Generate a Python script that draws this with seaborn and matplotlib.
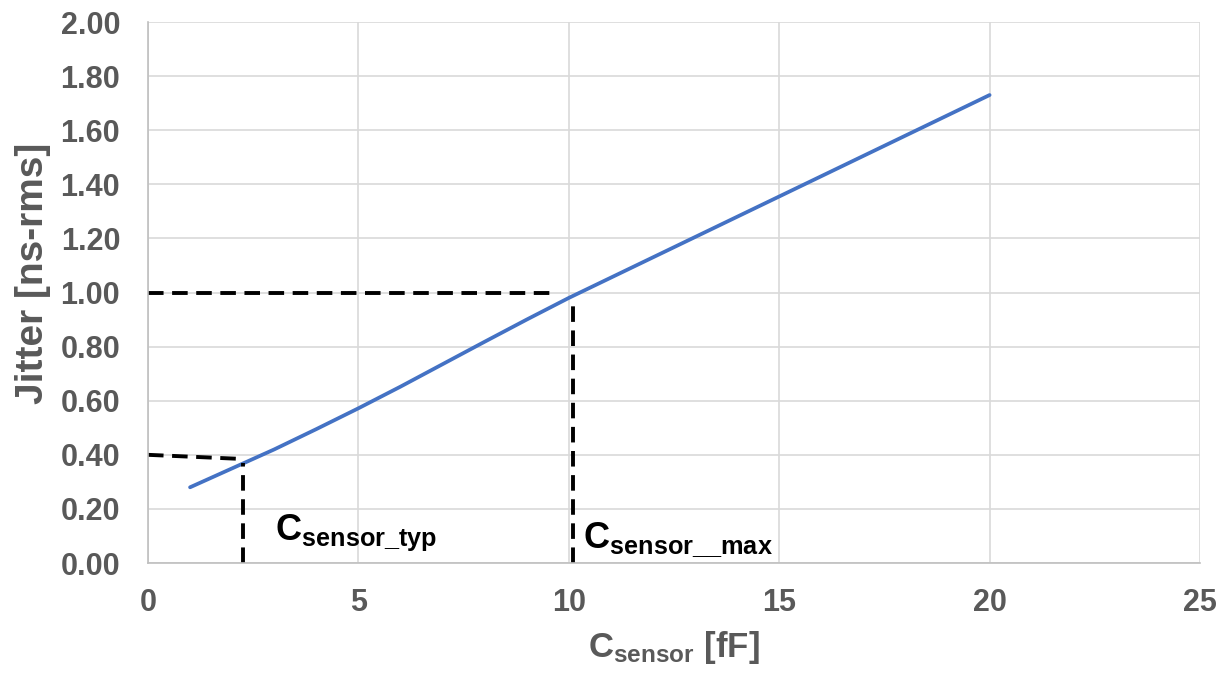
import matplotlib
matplotlib.use("Agg")
import matplotlib.pyplot as plt
import seaborn as sns
import pandas as pd

# jitter vs sensor capacitance
c_sensor = [1, 2, 3, 4, 5, 6, 7, 8, 9, 10, 12, 14, 16, 18, 20]
jitter = [0.28, 0.35, 0.42, 0.495, 0.572, 0.652, 0.735, 0.818, 0.9, 0.98, 1.13, 1.28, 1.43, 1.58, 1.73]

# marker lines for typical / max sensor capacitance
typ_x = 2.25
typ_y = 0.40
max_x = 10.1
max_y = 1.00

x_ticks = [0, 5, 10, 15, 20, 25]
y_ticks = [0.0, 0.2, 0.4, 0.6, 0.8, 1.0, 1.2, 1.4, 1.6, 1.8, 2.0]

sns.set_theme(style="whitegrid")
plt.rcParams["font.family"] = ["Liberation Sans", "DejaVu Sans"]
plt.rcParams["mathtext.fontset"] = "custom"
plt.rcParams["mathtext.rm"] = "Liberation Sans:bold"
plt.rcParams["mathtext.bf"] = "Liberation Sans:bold"
plt.rcParams["mathtext.it"] = "Liberation Sans:bold"

df = pd.DataFrame({"c": c_sensor, "jitter": jitter})

fig = plt.figure(figsize=(12.21, 6.73), dpi=100)
ax = fig.add_axes([0.1212, 0.1634, 0.8616, 0.8039])
sns.lineplot(data=df, x="c", y="jitter", color="#4472C4", linewidth=2.7, ax=ax)

# dashed guides
dash = (0, (4, 2.2))
ax.plot([0, typ_x - 0.05], [typ_y, typ_y - 0.015], color="black", ls=dash, lw=2.8)
ax.plot([typ_x, typ_x], [0, 0.37], color="black", ls=dash, lw=2.8)
ax.plot([0, max_x - 0.4], [max_y, max_y], color="black", ls=dash, lw=2.8)
ax.plot([max_x, max_x], [0, 0.96], color="black", ls=dash, lw=2.8)

ax.text(3.02, 0.085, r"$\mathbf{C_{sensor\_typ}}$", fontsize=26, color="black")
ax.text(10.34, 0.055, r"$\mathbf{C_{sensor\_\_max}}$", fontsize=26, color="black")

ax.set_xlim(0, 25)
ax.set_ylim(0, 2.0)
ax.set_xticks(x_ticks)
ax.set_yticks(y_ticks)
ax.set_yticklabels([f"{v:.2f}" for v in y_ticks])
ax.tick_params(axis="both", length=0, labelsize=22, labelcolor="#595959")
ax.tick_params(axis="y", pad=20)
ax.tick_params(axis="x", pad=18)
for lab in ax.get_xticklabels() + ax.get_yticklabels():
    lab.set_fontweight("bold")

ax.grid(color="#d9d9d9", linewidth=1.2)
for s in ["top", "right"]:
    ax.spines[s].set_visible(False)
for s in ["left", "bottom"]:
    ax.spines[s].set_color("#bfbfbf")
    ax.spines[s].set_linewidth(1.2)

ax.set_xlabel(r"$\mathbf{C_{sensor}}$ [fF]", fontsize=25, fontweight="bold", color="#595959", labelpad=8)
ax.set_ylabel("Jitter [ns-rms]", fontsize=28, fontweight="bold", color="#595959", labelpad=7)
ax.yaxis.label.set_y(0.535)

plt.savefig("out.png", dpi=100)
